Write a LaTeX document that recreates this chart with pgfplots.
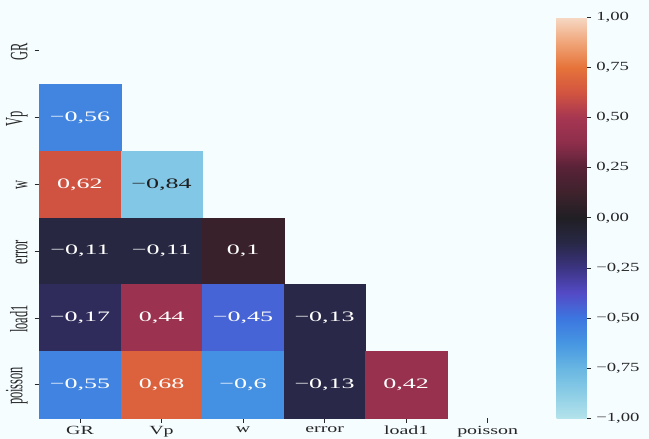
\documentclass[border=0pt]{standalone}
\usepackage{fontspec}
\setmainfont{Liberation Serif}
\usepackage{pgfplots}
\pgfplotsset{compat=1.18}
\usepackage{pgfplotstable}

\definecolor{bg}{RGB}{245,253,255}
\definecolor{tickc}{RGB}{40,40,40}

% diverging "icefire"-like colormap, stops every 0.125 from -1 to 1
\pgfplotsset{colormap={icefire}{
  rgb255=(180,227,235) rgb255=(140,205,230) rgb255=(104,182,226)
  rgb255=(70,150,226)  rgb255=(60,118,224)  rgb255=(84,74,198)
  rgb255=(60,52,130)   rgb255=(40,40,70)    rgb255=(32,31,36)
  rgb255=(62,34,44)    rgb255=(88,34,55)    rgb255=(142,46,75)
  rgb255=(166,54,82)   rgb255=(210,84,64)   rgb255=(230,115,58)
  rgb255=(240,165,120) rgb255=(246,216,196)}}

% lower triangle of the correlation matrix
% x = column (GR..poisson), y = 5 - row (GR row on top)
\pgfplotstableread{
x y c
0 4 -0.56
0 3 0.62
1 3 -0.84
0 2 -0.11
1 2 -0.11
2 2 0.10
0 1 -0.17
1 1 0.44
2 1 -0.45
3 1 -0.13
0 0 -0.55
1 0 0.68
2 0 -0.60
3 0 -0.13
4 0 0.42
}\corr

\newcommand{\tickfont}{\fontsize{12.5}{14}\selectfont}
\newcommand{\cellfont}{\fontsize{14.5}{16}\selectfont}

\begin{document}
\begin{tikzpicture}
\fill[bg] (0,0) rectangle (649bp,439bp);
\begin{axis}[
  at={(39.2bp,20.7bp)}, anchor=south west,
  scale only axis, width=489.3bp, height=400.8bp,
  xmin=-0.5, xmax=5.5, ymin=-0.5, ymax=5.5,
  axis line style={draw=none},
  xtick={0,...,5}, ytick={0,...,5},
  xticklabels={GR,Vp,w,error,load1,poisson},
  yticklabels={poisson,load1,error,w,Vp,GR},
  xtick pos=bottom, ytick pos=left,
  tick align=outside, major tick length=4.5bp,
  tick style={color=tickc, line width=0.8bp},
  xticklabel style={font=\tickfont, text=black!85, xscale=1.6},
  yticklabel style={font=\tickfont, text=black!85, xscale=2.0, rotate=90, anchor=south, xshift=-1bp},
  point meta min=-1, point meta max=1,
  colormap name=icefire,
  colorbar,
  colorbar/width=30bp,
  colorbar style={
    at={(parent axis.north east)}, anchor=north west, xshift=19.5bp,
    scale only axis,
    axis line style={draw=none},
    ytick={-1,-0.75,-0.5,-0.25,0,0.25,0.5,0.75,1},
    yticklabels={{−1,00},{−0,75},{−0,50},{−0,25},{0,00},{0,25},{0,50},{0,75},{1,00}},
    ytick pos=right, yticklabel pos=right,
    tick align=outside, major tick length=4.5bp,
    tick style={color=tickc, line width=0.8bp},
    every y tick label/.style={font=\tickfont, text=black!85, xscale=1.5, anchor=west},
  },
]
% coloured cells
\addplot[
  scatter, only marks,
  mark=square*, mark size=40.78bp,
  mark options={yscale=0.8191},
  scatter/use mapped color={draw=mapped color, fill=mapped color},
  point meta=explicit,
] table[x=x, y=y, meta=c] {\corr};
% value annotations
\addplot[
  draw=none, no markers,
  point meta=explicit,
  visualization depends on={\thisrow{c} \as \cval},
  nodes near coords={%
    \ifdim\cval pt<-0.75pt\color{black!88}\else\color{white}\fi
    \pgfmathsetmacro\absval{abs(\cval)}%
    \ifdim\cval pt<0pt −\fi
    \pgfmathprintnumber[fixed,precision=2,use comma,assume math mode=true]{\absval}},
  nodes near coords style={anchor=center, font=\cellfont, xscale=1.8},
] table[x=x, y=y, meta=c] {\corr};
\end{axis}
\pgfresetboundingbox
\useasboundingbox (0,0) rectangle (649bp,439bp);
\end{tikzpicture}
\end{document}
